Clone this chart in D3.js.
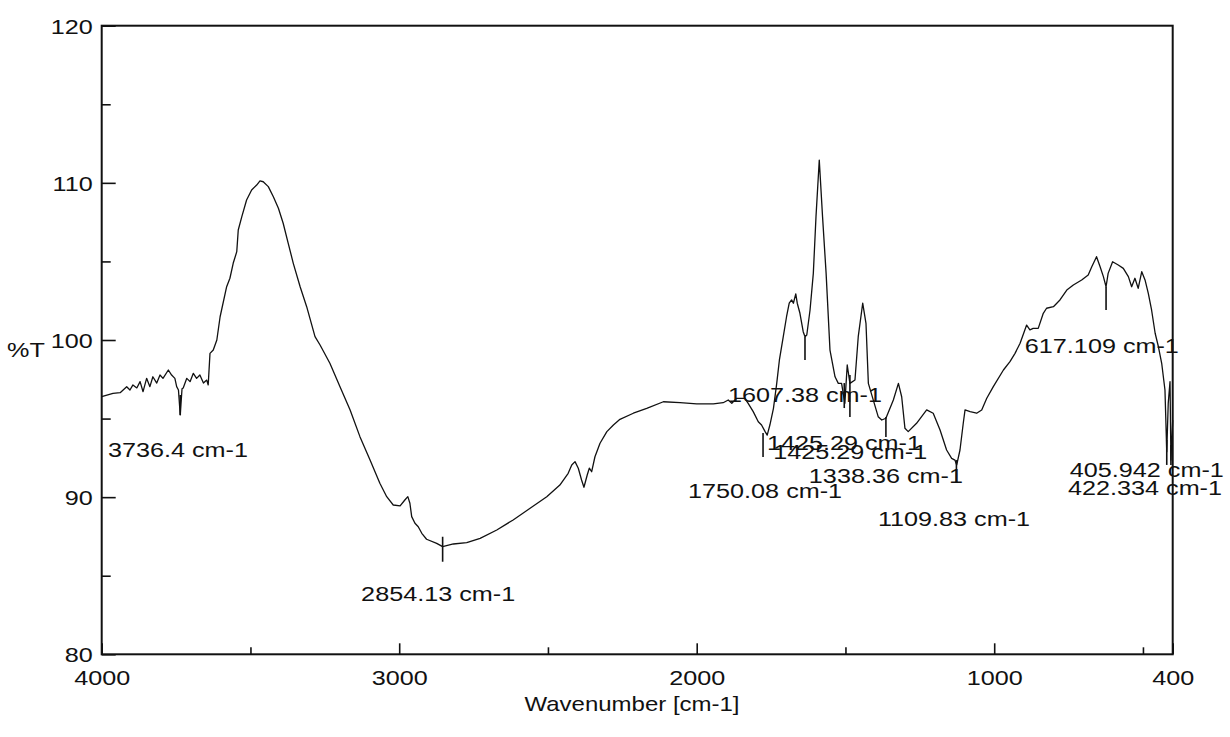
<!DOCTYPE html>
<html>
<head>
<meta charset="utf-8">
<script src="https://cdn.jsdelivr.net/npm/d3@7"></script>
<style>
  body { margin: 0; background: #fff; }
  text { font-family: "Liberation Sans", Arial, sans-serif; fill: #111; }
</style>
</head>
<body>
<div id="d3-container"></div>
<script>
/**
 * CONSTANTS AND GLOBALS
 * */
const width = 1230,
  height = 737,
  margin = { top: 25.7, bottom: 82.7, left: 101.7, right: 57.3 };

// the source picture is a bit wider than it is tall, so text gets stretched too
const stretch = 1.2;

/**
 * DATA
 * */
const wavenumber = [
  4000, 3962, 3938, 3916, 3905, 3895, 3882, 3871, 3861, 3849, 3838, 3828, 3815, 3804,
  3794, 3776, 3765, 3754, 3748, 3742, 3736, 3730, 3726, 3714, 3703, 3692, 3681, 3670,
  3658, 3647, 3642, 3636, 3625, 3619, 3613, 3602, 3580, 3569, 3558, 3546, 3541, 3529,
  3513, 3496, 3479, 3468, 3457, 3440, 3423, 3406, 3390, 3373, 3356, 3333, 3311, 3283,
  3266, 3233, 3199, 3165, 3132, 3098, 3065, 3042, 3020, 2997, 2981, 2971, 2964, 2958,
  2947, 2936, 2924, 2908, 2874, 2854, 2818, 2773, 2728, 2672, 2617, 2560, 2504, 2460,
  2432, 2420, 2409, 2398, 2387, 2379, 2368, 2361, 2353, 2342, 2325, 2302, 2280, 2258,
  2213, 2168, 2112, 2056, 2000, 1944, 1911, 1894, 1882, 1866, 1838, 1827, 1810, 1793,
  1782, 1770, 1763, 1754, 1742, 1731, 1722, 1709, 1698, 1689, 1681, 1675, 1667, 1662,
  1653, 1642, 1636, 1630, 1619, 1608, 1599, 1588, 1577, 1565, 1552, 1535, 1524, 1513,
  1502, 1494, 1485, 1468, 1457, 1442, 1431, 1423, 1390, 1378, 1364, 1339, 1322, 1311,
  1300, 1289, 1261, 1227, 1205, 1182, 1160, 1143, 1132, 1126, 1115, 1104, 1098, 1081,
  1059, 1042, 1025, 1003, 969, 947, 930, 913, 897, 891, 880, 869, 852, 835,
  824, 801, 779, 756, 734, 706, 684, 672, 656, 644, 633, 624, 617, 602,
  583, 566, 549, 538, 527, 516, 504, 493, 482, 471, 459, 448, 437, 426,
  420, 415, 409, 406, 400
];
const transmittance = [
  96.39, 96.61, 96.65, 97.03, 96.82, 97.14, 96.95, 97.35, 96.71, 97.56, 97.03, 97.66, 97.26, 97.77,
  97.56, 98.09, 97.77, 97.56, 97.03, 96.82, 95.23, 96.9, 96.95, 97.56, 97.35, 97.88, 97.56, 97.77,
  97.26, 97.45, 97.14, 99.15, 99.36, 99.68, 100.0, 101.48, 103.39, 103.93, 104.88, 105.62, 107.0, 107.85,
  108.91, 109.55, 109.86, 110.12, 110.07, 109.76, 109.12, 108.38, 107.43, 106.15, 104.88, 103.39, 102.12, 100.21,
  99.68, 98.52, 97.03, 95.55, 93.85, 92.36, 90.88, 90.03, 89.5, 89.44, 89.82, 90.03, 89.61, 88.76,
  88.34, 88.12, 87.7, 87.32, 87.06, 86.85, 87.02, 87.1, 87.38, 87.91, 88.55, 89.29, 90.03, 90.77,
  91.52, 92.05, 92.26, 91.84, 91.09, 90.63, 91.41, 91.84, 91.62, 92.57, 93.43, 94.17, 94.59, 94.95,
  95.34, 95.65, 96.07, 96.01, 95.93, 95.93, 96.01, 96.18, 95.97, 96.29, 96.29, 95.97, 95.44, 94.8,
  94.59, 94.17, 93.95, 94.59, 95.65, 97.24, 98.73, 100.21, 101.48, 102.34, 102.55, 102.34, 102.93, 102.34,
  101.7, 100.53, 100.21, 100.32, 101.91, 104.24, 107.85, 111.45, 107.85, 104.24, 99.36, 97.66, 97.24, 97.24,
  95.97, 98.41, 97.24, 97.45, 100.21, 102.34, 101.06, 97.24, 95.12, 94.91, 95.02, 96.18, 97.24, 96.39,
  94.38, 94.17, 94.7, 95.55, 95.34, 94.27, 93.0, 92.47, 92.36, 92.05, 93.0, 94.7, 95.55, 95.44,
  95.34, 95.55, 96.29, 97.03, 98.09, 98.62, 99.15, 99.79, 100.64, 100.95, 100.64, 100.74, 100.74, 101.7,
  102.02, 102.12, 102.55, 103.18, 103.5, 103.82, 104.14, 104.66, 105.3, 104.66, 104.03, 103.39, 104.24, 104.98,
  104.77, 104.56, 104.03, 103.39, 103.93, 103.29, 104.35, 103.82, 102.97, 101.91, 100.43, 99.57, 98.52, 96.82,
  92.89, 95.97, 97.35, 92.36, 94.9
];

// axis ticks
const xTicks = [4000, 3000, 2000, 1000, 400];
const xMinorTicks = [3500, 2500, 1500, 500];
const yTicks = [80, 90, 100, 110, 120];
const yMinorTicks = [85, 95, 105, 115];

// peak picking annotations: label text, marker (wavenumber, top, bottom), label anchor
const peakLabels = [
  "3736.4 cm-1", "2854.13 cm-1", "1750.08 cm-1", "1607.38 cm-1", "1425.29 cm-1",
  "1425.29 cm-1", "1338.36 cm-1", "1109.83 cm-1", "617.109 cm-1", "405.942 cm-1", "422.334 cm-1"
];
const markWn = [3736, 2854, 1777, 1636, 1504, 1485, 1364, 1127, 624, 406, 420];
const markTop = [96.5, 87.48, 94.09, 100.19, 97.26, 97.77, 95.1, 92.36, 103.39, 93.32, 93.64];
const markBottom = [95.23, 85.89, 92.56, 98.73, 95.67, 95.1, 93.83, 90.9, 101.91, 92.05, 92.05];
const labelWn = [3979, 3128, 2029, 1895, 1764, 1743, 1623, 1391, 897, 746, 752];
const labelT = [92.56, 83.39, 89.95, 96.07, 93.0, 92.43, 90.89, 88.16, 99.17, 91.28, 90.14];

/**
 * SCALES
 * */
const x = d3.scaleLinear()
  .domain([4000, 400])
  .range([margin.left, width - margin.right]);

const y = d3.scaleLinear()
  .domain([80, 120])
  .range([height - margin.bottom, margin.top]);

/**
 * DRAW
 * */
const svg = d3.select("#d3-container")
  .append("svg")
  .attr("width", width)
  .attr("height", height);

// bottom axis, ticks pointing inwards
const xAxis = svg.append("g")
  .attr("transform", `translate(0,${height - margin.bottom})`)
  .call(d3.axisBottom(x).tickValues(xTicks).tickSize(-11).tickSizeOuter(0).tickPadding(16).tickFormat(d3.format("d")));

svg.append("g")
  .attr("transform", `translate(0,${height - margin.bottom})`)
  .call(d3.axisBottom(x).tickValues(xMinorTicks).tickSize(-7).tickSizeOuter(0).tickFormat(""));

// left axis
const yAxis = svg.append("g")
  .attr("transform", `translate(${margin.left},0)`)
  .call(d3.axisLeft(y).tickValues(yTicks).tickSize(-14).tickSizeOuter(0).tickPadding(7.5));

svg.append("g")
  .attr("transform", `translate(${margin.left},0)`)
  .call(d3.axisLeft(y).tickValues(yMinorTicks).tickSize(-9).tickSizeOuter(0).tickFormat(""));

svg.selectAll(".tick line").attr("stroke", "#111").attr("stroke-width", 1.6);
svg.selectAll(".domain").remove();

xAxis.selectAll("text")
  .attr("font-size", 21)
  .attr("fill", "#111")
  .attr("transform", `scale(${stretch},1)`);

yAxis.selectAll("text")
  .attr("font-size", 21)
  .attr("fill", "#111")
  .attr("dy", "0.36em")
  .attr("transform", `scale(${stretch},1)`);

// frame
svg.append("rect")
  .attr("x", margin.left)
  .attr("y", margin.top)
  .attr("width", width - margin.left - margin.right)
  .attr("height", height - margin.top - margin.bottom)
  .attr("fill", "none")
  .attr("stroke", "#111")
  .attr("stroke-width", 2);

// spectrum
const spectrum = wavenumber.map((w, i) => ({ w, t: transmittance[i] }));

svg.append("path")
  .datum(spectrum)
  .attr("fill", "none")
  .attr("stroke", "#111")
  .attr("stroke-width", 1.3)
  .attr("stroke-linejoin", "round")
  .attr("d", d3.line().x(d => x(d.w)).y(d => y(d.t)));

// peak markers + labels
const peaks = peakLabels.map((text, i) => ({
  text,
  w: markWn[i],
  top: markTop[i],
  bottom: markBottom[i],
  lw: labelWn[i],
  lt: labelT[i]
}));

svg.selectAll(".peak-mark")
  .data(peaks)
  .join("line")
  .attr("class", "peak-mark")
  .attr("x1", d => x(d.w))
  .attr("x2", d => x(d.w))
  .attr("y1", d => y(d.top))
  .attr("y2", d => y(d.bottom))
  .attr("stroke", "#111")
  .attr("stroke-width", 1.6);

svg.selectAll(".peak-label")
  .data(peaks)
  .join("text")
  .attr("class", "peak-label")
  .attr("transform", d => `translate(${x(d.lw)},${y(d.lt)}) scale(${stretch},1)`)
  .attr("font-size", 21)
  .text(d => d.text);

// axis titles
svg.append("text")
  .attr("transform", `translate(632,711) scale(${stretch},1)`)
  .attr("text-anchor", "middle")
  .attr("font-size", 20)
  .text("Wavenumber [cm-1]");

svg.append("text")
  .attr("transform", `translate(7,356.7) scale(${stretch},1)`)
  .attr("font-size", 21)
  .text("%T");
</script>
</body>
</html>
